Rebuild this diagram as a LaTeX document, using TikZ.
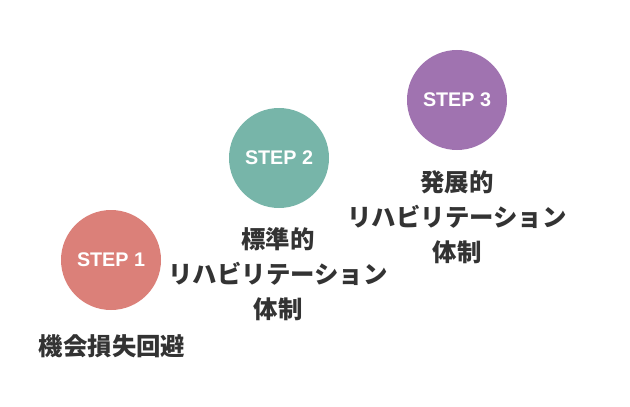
\documentclass[tikz,border=0pt]{standalone}
\usepackage{fontspec}
\newfontfamily\jpfont{Noto Sans CJK JP}
\newfontfamily\stepfont{Liberation Sans}
\definecolor{cone}{HTML}{DB8079}
\definecolor{ctwo}{HTML}{77B5A9}
\definecolor{cthree}{HTML}{A073B0}
\definecolor{txt}{HTML}{333333}
\begin{document}
\begin{tikzpicture}[x=0.75pt,y=-0.75pt,
  stepcircle/.style={circle,minimum size=75pt,inner sep=0pt,text=white,font=\stepfont\bfseries\fontsize{14.8}{17}\selectfont},
  label/.style={text=txt,align=center,font=\jpfont\bfseries\fontsize{18.3}{26.25}\selectfont}]
\useasboundingbox (0,0) rectangle (630,406);
\node[stepcircle,fill=cone] (s1) at (111,260) {STEP 1};
\node[stepcircle,fill=ctwo] (s2) at (279,158) {STEP 2};
\node[stepcircle,fill=cthree] (s3) at (457,100) {STEP 3};
\node[label] (t1) at (112,346) {機会損失回避};
\node[label] (t2) at (278,274) {標準的\\リハビリテーション\\体制};
\node[label] (t3) at (457,217) {発展的\\リハビリテーション\\体制};
\end{tikzpicture}
\end{document}
